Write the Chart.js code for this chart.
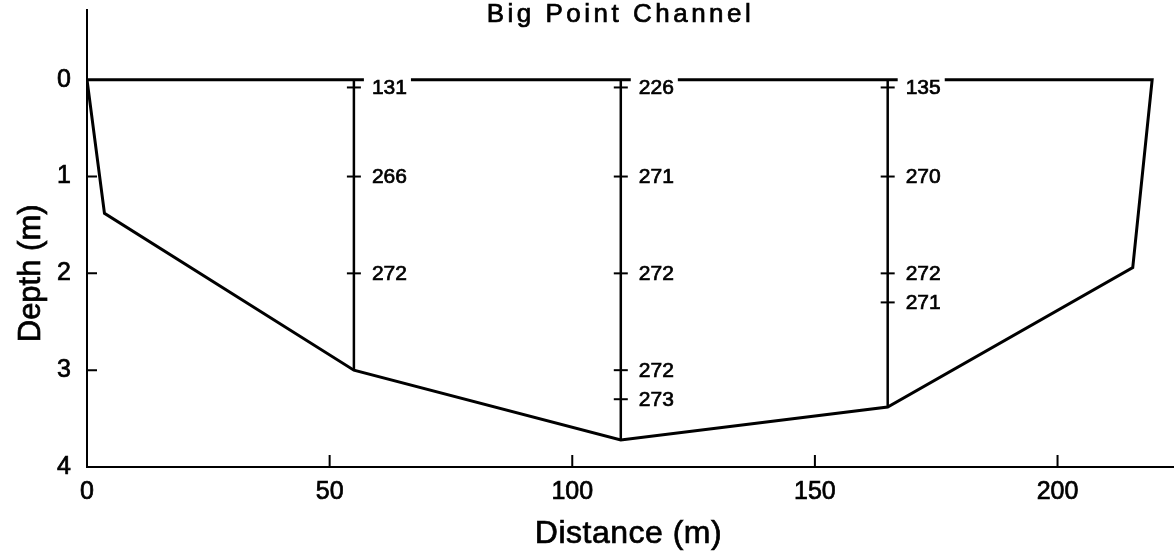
<!DOCTYPE html>
<html>
<head>
<meta charset="utf-8">
<title>Big Point Channel</title>
<script src="https://cdn.jsdelivr.net/npm/chart.js@4.4.0/dist/chart.umd.min.js"></script>
<style>
  html, body { margin: 0; padding: 0; background: #fff; }
  canvas { display: block; }
</style>
</head>
<body>
<canvas id="grafico" width="1174" height="553"></canvas>
<script>
// Contorno del canal (distancia en m, profundidad en m), cerrado por la superficie
const perfilDistancia = [0, 3.6, 55, 110, 165, 215.5, 219.5, 0];
const perfilProfundidad = [0, 1.38, 3.0, 3.72, 3.38, 1.94, 0, 0];

// Estaciones de muestreo y lecturas a cada profundidad
const estaciones = [55, 110, 165];
const profundidadMuestras = [
  [0.08, 1.0, 2.0],
  [0.08, 1.0, 2.0, 3.0, 3.3],
  [0.08, 1.0, 2.0, 2.3]
];
const valoresMuestras = [
  [131, 266, 272],
  [226, 271, 272, 272, 273],
  [135, 270, 272, 271]
];

const ticksDistancia = [0, 50, 100, 150, 200];
const ticksProfundidad = [0, 1, 2, 3, 4];

const fuente = '"Liberation Sans", Arial, Helvetica, sans-serif';
const trazo = 0.7; // engrosa un poco el texto

// el fondo de cada estación sale del propio contorno
const fondoEstacion = estaciones.map(x => perfilProfundidad[perfilDistancia.indexOf(x)]);

const datasets = [];
datasets.push({
  label: 'Canal',
  data: perfilDistancia.map((x, i) => ({ x: x, y: perfilProfundidad[i] })),
  showLine: true,
  borderColor: '#000',
  borderWidth: 3,
  borderJoinStyle: 'miter',
  pointRadius: 0
});

estaciones.forEach((x, j) => {
  datasets.push({
    label: `Estación ${j + 1}`,
    data: [{ x: x, y: 0 }, { x: x, y: fondoEstacion[j] }],
    showLine: true,
    borderColor: '#000',
    borderWidth: 2.5,
    pointRadius: 0
  });
  datasets.push({
    label: `Muestras ${j + 1}`,
    data: profundidadMuestras[j].map((y, i) => ({ x: x, y: y, valor: valoresMuestras[j][i] })),
    showLine: false,
    pointStyle: 'line',
    pointRadius: 7,
    pointBorderWidth: 2,
    borderColor: '#000',
    muestras: true
  });
});

function escribir(ctx, texto, x, y) {
  ctx.strokeText(texto, x, y);
  ctx.fillText(texto, x, y);
}

// Valores escritos a la derecha de cada marca, con fondo blanco
const etiquetasMuestras = {
  id: 'etiquetasMuestras',
  afterDatasetsDraw(chart) {
    const ctx = chart.ctx;
    ctx.save();
    ctx.font = `21px ${fuente}`;
    ctx.textBaseline = 'middle';
    ctx.textAlign = 'left';
    ctx.strokeStyle = '#000';
    ctx.lineWidth = trazo;
    chart.data.datasets.forEach((ds, k) => {
      if (!ds.muestras) return;
      chart.getDatasetMeta(k).data.forEach((pt, i) => {
        const texto = String(ds.data[i].valor);
        const ancho = ctx.measureText(texto).width;
        const x = pt.x + 18;
        ctx.fillStyle = '#fff';
        ctx.fillRect(x - 8, pt.y - 11, ancho + 12, 22);
        ctx.fillStyle = '#000';
        escribir(ctx, texto, x, pt.y + 1);
      });
    });
    ctx.restore();
  }
};

// Marcas hacia dentro de los ejes, título y nombres de los ejes
const decoracion = {
  id: 'decoracion',
  afterDraw(chart) {
    const { ctx, chartArea, scales } = chart;
    const centroX = (chartArea.left + chartArea.right) / 2;
    ctx.save();
    ctx.strokeStyle = '#000';
    ctx.lineWidth = 2;
    ctx.beginPath();
    ticksDistancia.slice(1).forEach(v => {
      const px = scales.x.getPixelForValue(v);
      ctx.moveTo(px, chartArea.bottom);
      ctx.lineTo(px, chartArea.bottom - 12);
    });
    ticksProfundidad.slice(1, -1).forEach(v => {
      const py = scales.y.getPixelForValue(v);
      ctx.moveTo(chartArea.left, py);
      ctx.lineTo(chartArea.left + 10, py);
    });
    ctx.stroke();

    ctx.lineWidth = trazo;
    ctx.fillStyle = '#000';
    ctx.textAlign = 'center';
    ctx.textBaseline = 'alphabetic';

    ctx.font = `26px ${fuente}`;
    ctx.letterSpacing = '3.5px';
    escribir(ctx, 'Big Point Channel', centroX - 10, 22);

    ctx.font = `32px ${fuente}`;
    ctx.letterSpacing = '0.5px';
    escribir(ctx, 'Distance (m)', centroX - 2, 543);
    ctx.letterSpacing = '0px';

    ctx.font = `31px ${fuente}`;
    ctx.translate(40, scales.y.getPixelForValue(2));
    ctx.rotate(-Math.PI / 2);
    escribir(ctx, 'Depth (m)', 0, 0);
    ctx.restore();
  }
};

const ctx = document.getElementById('grafico').getContext('2d');
new Chart(ctx, {
  type: 'scatter',
  data: { datasets: datasets },
  plugins: [etiquetasMuestras, decoracion],
  options: {
    responsive: false,
    animation: false,
    layout: { autoPadding: false, padding: { top: 10, right: 0, left: 0, bottom: 0 } },
    plugins: {
      legend: { display: false },
      tooltip: { enabled: false }
    },
    scales: {
      x: {
        type: 'linear',
        min: 0,
        max: 224,
        afterFit: s => { s.height = 86; s.paddingRight = 0; },
        afterBuildTicks: s => { s.ticks = ticksDistancia.map(v => ({ value: v })); },
        grid: { display: false, drawTicks: false },
        border: { color: '#000', width: 2 },
        ticks: {
          color: '#000',
          font: { family: fuente, size: 25 },
          padding: 10,
          textStrokeColor: '#000',
          textStrokeWidth: trazo
        }
      },
      y: {
        type: 'linear',
        reverse: true,
        min: -0.72,
        max: 4,
        // la etiqueta superior queda lejos del borde, no hace falta margen arriba
        afterFit: s => { s.width = 87; s.paddingTop = 0; s.paddingBottom = 0; },
        afterBuildTicks: s => { s.ticks = ticksProfundidad.map(v => ({ value: v })); },
        grid: { display: false, drawTicks: false },
        border: { color: '#000', width: 2 },
        ticks: {
          color: '#000',
          font: { family: fuente, size: 25 },
          padding: 16,
          textStrokeColor: '#000',
          textStrokeWidth: trazo
        }
      }
    }
  }
});
</script>
</body>
</html>
